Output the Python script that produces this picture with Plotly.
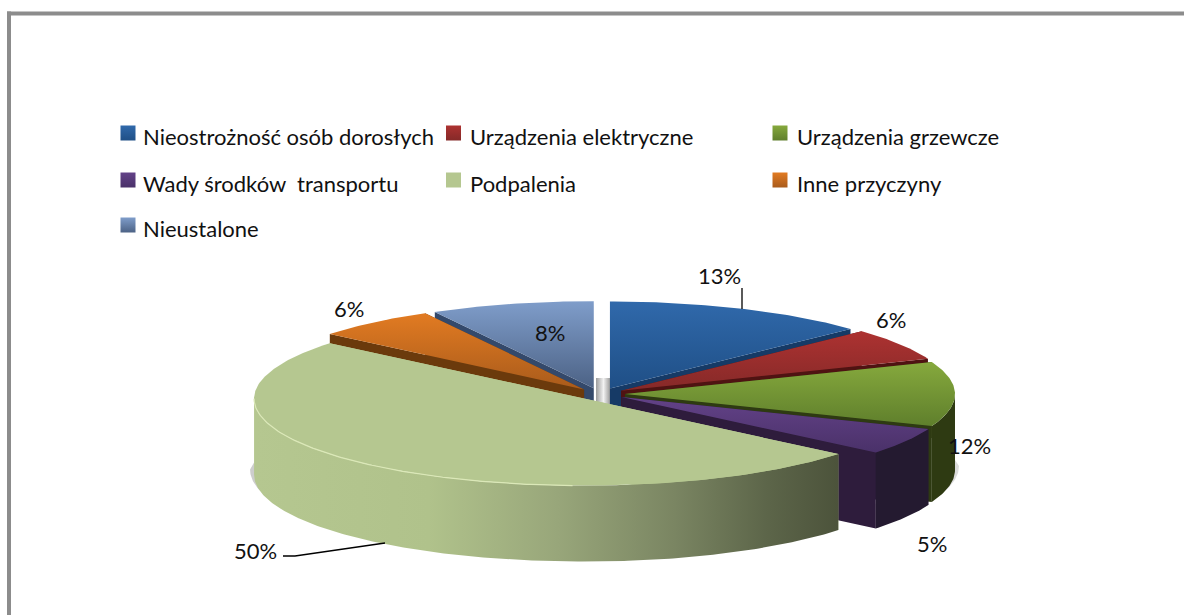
import math
import plotly.graph_objects as go

categories = ["Nieostrożność osób dorosłych", "Urządzenia elektryczne", "Urządzenia grzewcze",
              "Wady środków  transportu", "Podpalenia", "Inne przyczyny", "Nieustalone"]
values = [13, 6, 12, 5, 50, 6, 8]
value_labels = ["13%", "6%", "12%", "5%", "50%", "6%", "8%"]

top_back = ["#3069ab", "#ad3231", "#86a93d", "#634288", "#b5c790", "#e27b22", "#7f9dca"]
top_front = ["#1f4f86", "#852928", "#5f7f2c", "#4a3169", "#b5c790", "#a95b1b", "#4c6285"]
wall_col = ["#163a66", "#5a1716", "#2e3a12", "#241a30", "#b5c790", "#6b3a0c", "#34496b"]
radial_col = ["#163a66", "#4f1312", "#2e3a12", "#2e1c3c", "#b5c790", "#6b3a0c", "#34496b"]

CX, CY = 600, 394
RX, RY = 330, 87
EX, EY = 25, 6
DEPTH = 76

fig = go.Figure()


def add_fill(xs, ys, color=None, grad=None):
    kw = dict(x=xs, y=ys, mode="lines", line=dict(width=0), fill="toself",
              hoverinfo="skip", showlegend=False)
    if grad:
        kw["fillgradient"] = grad
    else:
        kw["fillcolor"] = color
    fig.add_trace(go.Scatter(**kw))


fracs = []
acc = 0
total = sum(values)
for v in values:
    fracs.append((acc / total * 360, (acc + v) / total * 360))
    acc += v


def centre(i):
    a0, a1 = fracs[i]
    mid = math.radians((a0 + a1) / 2)
    return CX + EX * math.sin(mid), CY - EY * math.cos(mid)


def arc(i, a0, a1):
    cx, cy = centre(i)
    n = max(8, int((a1 - a0) * 1.5))
    ang = [math.radians(a0 + (a1 - a0) * k / n) for k in range(n + 1)]
    return [cx + RX * math.sin(t) for t in ang], [cy - RY * math.cos(t) for t in ang]


# glint seen through the gap at the centre of the pie
add_fill([596, 611, 611, 596], [378, 378, 405, 405],
         grad=dict(type="horizontal", start=596, stop=611,
                   colorscale=[[0, "#9c9c9c"], [0.5, "#f2f2f2"], [1, "#8f8f8f"]]))

# soft contact shadows
ax, ay = arc(4, 205, 270)
add_fill([x - 4 for x in ax] + ax[::-1], [y + DEPTH - 5 for y in ay] + [y + DEPTH - 12 for y in ay][::-1],
         color="rgba(90,90,90,0.30)")
ax, ay = arc(2, 90, 111.6)
add_fill([x + 4 for x in ax] + ax[::-1], [y + DEPTH - 4 for y in ay] + [y + DEPTH - 10 for y in ay][::-1],
         color="rgba(90,90,90,0.22)")

for i in [6, 0, 5, 1, 2, 3, 4]:
    a0, a1 = fracs[i]
    cx, cy = centre(i)
    ax, ay = arc(i, a0, a1)
    # radial faces
    for px, py in [(ax[0], ay[0]), (ax[-1], ay[-1])]:
        add_fill([cx, px, px, cx], [cy, py, py + DEPTH, cy + DEPTH], color=radial_col[i])
    # outer wall: only the part that faces the viewer
    f0, f1 = max(a0, 90), min(a1, 270)
    if f1 > f0:
        wx, wy = arc(i, f0, f1)
        bx = wx + wx[::-1]
        by = wy + [y + DEPTH for y in wy][::-1]
        if i == 4:
            add_fill(bx, by, grad=dict(type="horizontal", start=min(wx), stop=max(wx),
                                       colorscale=[[0, "#b5c790"], [0.30, "#b0c28b"], [0.52, "#98a67a"],
                                                   [0.72, "#7a8562"], [0.88, "#5c6549"], [1, "#4c533b"]]))
        else:
            add_fill(bx, by, color=wall_col[i])
    # top surface
    tx = [cx] + ax + [cx]
    ty = [cy] + ay + [cy]
    add_fill(tx, ty, grad=dict(type="vertical", start=min(ty), stop=max(ty),
                               colorscale=[[0, top_back[i]], [1, top_front[i]]]))

# pale rim on the front of the big slice
ax, ay = arc(4, 182, 270)
fig.add_trace(go.Scatter(x=ax, y=ay, mode="lines",
                         line=dict(color="#dbe8b8", width=1.2), hoverinfo="skip", showlegend=False))

# data labels
label_pos = [(719, 275), (891, 319), (969, 445), (932, 543), (255, 550), (349, 308), (550, 332)]
for t, (x, y) in zip(value_labels, label_pos):
    fig.add_annotation(x=x, y=y, text=t, showarrow=False, font=dict(size=22, color="#111111", family="Lato"),
                       xanchor="center", yanchor="middle")

# leader lines
fig.add_trace(go.Scatter(x=[742, 742], y=[288, 309], mode="lines", line=dict(color="#000000", width=1.3),
                         hoverinfo="skip", showlegend=False))
fig.add_trace(go.Scatter(x=[283, 295, 385], y=[556, 556, 543], mode="lines", line=dict(color="#000000", width=1.3),
                         hoverinfo="skip", showlegend=False))

# legend
marker_cols = [128, 453.5, 780]
text_cols = [141, 468, 795]
legend_rows = [133, 180, 225]
for i, name in enumerate(categories):
    r = legend_rows[i // 3]
    fig.add_trace(go.Scatter(x=[marker_cols[i % 3]], y=[r], mode="markers", hoverinfo="skip", showlegend=False,
                             marker=dict(symbol="square", size=15, color=top_back[i], line=dict(width=0),
                                         gradient=dict(type="vertical", color=top_front[i]))))
    fig.add_annotation(x=text_cols[i % 3], y=r + 3, text=name, showarrow=False, xanchor="left", yanchor="middle",
                       font=dict(size=22, color="#111111", family="Lato"))

fig.update_layout(
    width=1184, height=615, margin=dict(l=0, r=0, t=0, b=0),
    paper_bgcolor="#ffffff", plot_bgcolor="#ffffff",
    xaxis=dict(range=[0, 1184], visible=False, fixedrange=True),
    yaxis=dict(range=[615, 0], visible=False, fixedrange=True),
    shapes=[
        dict(type="rect", x0=7, x1=1184, y0=11.5, y1=15.5, line=dict(width=0), fillcolor="#8c8c8c", layer="below"),
        dict(type="rect", x0=7, x1=11, y0=11.5, y1=615, line=dict(width=0), fillcolor="#8c8c8c", layer="below"),
    ],
)

fig.write_html("out.html", config={"displayModeBar": False},
               post_script="document.body.style.margin='0';document.body.style.overflow='hidden';")
